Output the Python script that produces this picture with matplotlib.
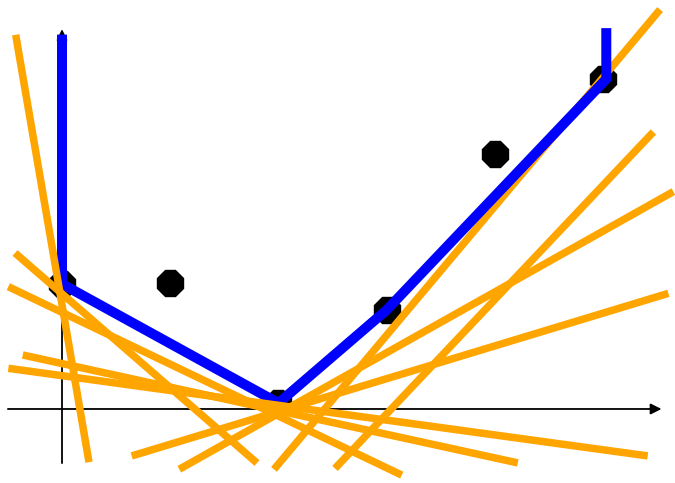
import matplotlib
matplotlib.use("Agg")
import matplotlib.pyplot as plt
import numpy as np

# Sample points
point_x = [0, 1, 2, 3, 4, 5]
point_y = [1.155, 1.162, 0.055, 0.915, 2.357, 3.05]

# Lower convex envelope: vertex indices and the height of the vertical rays
hull_idx = [0, 2, 3, 5]
hull_top_left = 3.46
hull_top_right = 3.52

# Affine minorants y = slope * x + intercept, drawn over [x_start, x_end]
line_slope = [-5.83, -0.868, -0.479, -0.218, -0.137, 0.303, 0.562, 1.191, 1.057]
line_intercept = [0.963, 1.065, 0.893, 0.420, 0.308, -0.629, -1.166, -2.891, -3.216]
line_x_start = [-0.428, -0.434, -0.496, -0.363, -0.496, 0.644, 1.084, 1.959, 2.523]
line_x_end = [0.2495, 1.802, 3.140, 4.212, 5.413, 5.604, 5.650, 5.527, 5.465]

# Minorants drawn beneath the envelope (the rest go on top)
drawn_below = {7}

fig = plt.figure(figsize=(6.75, 4.83), dpi=100)
ax = fig.add_axes([0, 0, 1, 1])
ax.set_xlim(-0.573, 5.665)
ax.set_ylim(-0.684, 3.780)
ax.axis("off")

# Coordinate axes with arrowheads
ax.annotate("", xy=(5.54, 0), xytext=(-0.5, 0),
            arrowprops=dict(arrowstyle="-|>", color="black", lw=1.3,
                            mutation_scale=16, shrinkA=0, shrinkB=0), zorder=1)
ax.annotate("", xy=(0, 3.51), xytext=(0, -0.5),
            arrowprops=dict(arrowstyle="-|>", color="black", lw=1.3,
                            mutation_scale=16, shrinkA=0, shrinkB=0), zorder=1)

# Points
ax.plot(point_x, point_y, linestyle="none", marker="8", markersize=20.5,
        color="black", zorder=2)

# Convex envelope with vertical rays at both ends
hx = [point_x[hull_idx[0]]] + [point_x[i] for i in hull_idx] + [point_x[hull_idx[-1]]]
hy = [hull_top_left] + [point_y[i] for i in hull_idx] + [hull_top_right]
hx[-2] += 0.03
hx[-1] += 0.03
ax.plot(hx, hy, color="#0000FF", lw=7.2, solid_capstyle="butt",
        solid_joinstyle="miter", zorder=4)

# Affine minorants
for k, (m, b, x0, x1) in enumerate(zip(line_slope, line_intercept, line_x_start, line_x_end)):
    xx = np.array([x0, x1])
    ax.plot(xx, m * xx + b, color="#FFA500", lw=5.4, solid_capstyle="butt",
            zorder=3 if k in drawn_below else 5)

fig.savefig("out.png", dpi=100)
